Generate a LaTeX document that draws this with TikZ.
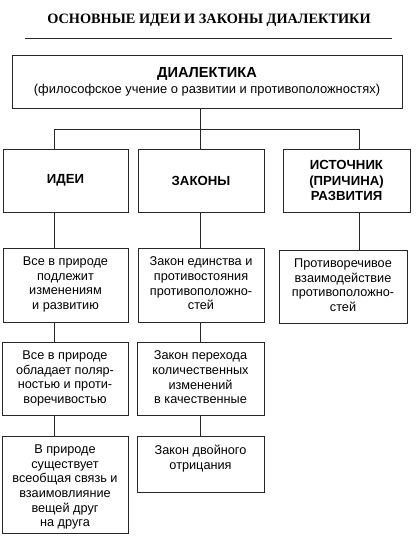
\documentclass[tikz,border=0pt]{standalone}
\usepackage{fontspec}
\setmainfont{Liberation Sans}
\newfontfamily\titlefont{Liberation Serif}
\newcommand\tb[3]{\parbox[c][#2][t]{#1}{\centering\vspace{9bp}#3\par}}
\tikzset{
  box/.style={draw=black!85, line width=0.8bp, inner sep=0pt, font=\fontsize{12.7bp}{14.6bp}\selectfont},
  head/.style={draw=black!85, line width=0.8bp, inner sep=0pt, align=center, font=\bfseries\fontsize{13.2bp}{15.2bp}\selectfont},
  conn/.style={draw=black!85, line width=0.8bp},
}
\begin{document}
\begin{tikzpicture}[x=1bp, y=-1bp]
\useasboundingbox (0,0) rectangle (416,541);
\fill[white] (0,0) rectangle (416,541);
% title
\node[font=\titlefont\bfseries\fontsize{14.3bp}{17bp}\selectfont] (title) at (209,20) {ОСНОВНЫЕ ИДЕИ И ЗАКОНЫ ДИАЛЕКТИКИ};
\draw[conn] (25,38) -- (392,38);
% top box
\node[head, minimum width=390bp, minimum height=53bp] (dial) at (207,81.5)
  {{\fontsize{14.6bp}{16bp}\selectfont ДИАЛЕКТИКА}\\[0.5bp]{\mdseries\fontsize{12.9bp}{15bp}\selectfont (философское учение о развитии и противоположностях)}};
% headings
\node[head, minimum width=125bp, minimum height=63bp] (idei) at (65.5,180.5) {ИДЕИ};
\node[head, minimum width=126bp, minimum height=63bp] (zak) at (201,180.5) {ЗАКОНЫ};
\node[head, minimum width=127bp, minimum height=63bp] (ist) at (346.5,180.5) {ИСТОЧНИК\\(ПРИЧИНА)\\РАЗВИТИЯ};
% second row
\node[box] (i1) at (65.5,285) {\tb{125bp}{74bp}{Все в природе\\ подлежит\\ изменениям\\ и развитию}};
\node[box] (z1) at (201,285) {\tb{126bp}{74bp}{Закон единства и\\ противостояния\\ противоположно-\\ стей}};
\node[box] (s1) at (343,286.5) {\tb{128bp}{73bp}{Противоречивое\\ взаимодействие\\ противоположно-\\ стей}};
% third row
\node[box] (i2) at (65,378.5) {\tb{126bp}{73bp}{Все в природе\\ обладает поляр-\\ ностью и проти-\\ воречивостью}};
\node[box] (z2) at (200.5,378.5) {\tb{127bp}{73bp}{Закон перехода\\ количественных\\ изменений\\ в качественные}};
% fourth row
\node[box] (i3) at (65,484.5) {\tb{126bp}{97bp}{В природе\\ существует\\ всеобщая связь и\\ взаимовлияние\\ вещей друг\\ на друга}};
\node[box] (z3) at (200.5,464) {\tb{127bp}{56bp}{Закон двойного\\ отрицания}};
% connectors
\coordinate (ca) at (54,129);
\coordinate (cb) at (200,129);
\coordinate (cc) at (359,129);
\draw[conn] (dial.south -| cb) -- (cb);
\draw[conn] (ca) -- (cc);
\draw[conn] (ca) -- (ca |- idei.north);
\draw[conn] (cb) -- (cb |- zak.north);
\draw[conn] (cc) -- (cc |- ist.north);
\draw[conn] (idei.south -| ca) -- (i1.north -| ca);
\draw[conn] (zak.south -| cb) -- (z1.north -| cb);
\draw[conn] (ist.south -| cc) -- (s1.north -| cc);
\draw[conn] (i1.south -| ca) -- (i2.north -| ca);
\draw[conn] (z1.south -| cb) -- (z2.north -| cb);
\draw[conn] (i2.south -| ca) -- (i3.north -| ca);
\draw[conn] (z2.south -| cb) -- (z3.north -| cb);
\end{tikzpicture}
\end{document}
